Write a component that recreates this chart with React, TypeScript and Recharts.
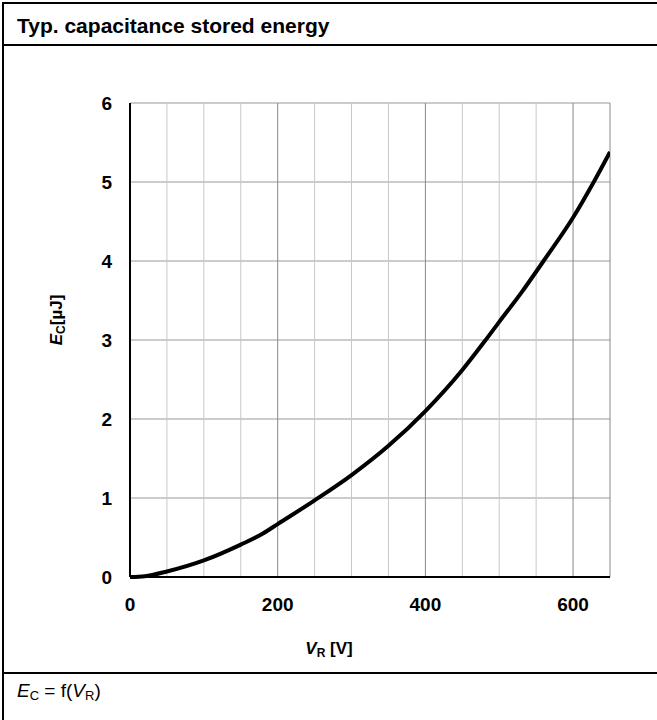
import React from "react";
import { LineChart, Line, XAxis, YAxis, CartesianGrid, ReferenceLine } from "recharts";

// V_R in volts
const VOLTAGE = [0, 20, 50, 100, 150, 180, 200, 250, 300, 350, 400, 450, 480, 500, 530, 560, 600, 628, 650];
// E_C in µJ
const ENERGY = [0, 0.01, 0.07, 0.21, 0.41, 0.55, 0.67, 0.97, 1.29, 1.66, 2.1, 2.62, 2.98, 3.23, 3.6, 4.0, 4.55, 5.0, 5.38];

const X_TICKS = [0, 50, 100, 150, 200, 250, 300, 350, 400, 450, 500, 550, 600, 650];
const X_LABELED = [0, 200, 400, 600];
const Y_TICKS = [0, 1, 2, 3, 4, 5, 6];

const data = VOLTAGE.map((v, i) => ({ v, e: ENERGY[i] }));

const FONT = '"Liberation Sans", Arial, Helvetica, sans-serif';
const tickStyle = { fill: "#000", fontSize: 19, fontWeight: 700, fontFamily: FONT };

function XTitle(props: any) {
  const vb = props.viewBox;
  return (
    <text
      x={vb.x + vb.width / 2 - 41}
      y={vb.y + 77}
      textAnchor="middle"
      fontFamily={FONT}
      fontWeight={700}
      fontSize={17}
      fill="#000"
    >
      <tspan fontStyle="italic">V</tspan>
      <tspan fontSize={12} dy={3}>R</tspan>
      <tspan dy={-3}> [V]</tspan>
    </text>
  );
}

function YTitle(props: any) {
  const vb = props.viewBox;
  const cx = 62;
  const cy = vb.y + vb.height / 2 - 20;
  return (
    <text
      x={cx}
      y={cy}
      transform={`rotate(-90 ${cx} ${cy})`}
      textAnchor="middle"
      fontFamily={FONT}
      fontWeight={700}
      fontSize={17}
      fill="#000"
    >
      <tspan fontStyle="italic">E</tspan>
      <tspan fontSize={12} dy={3}>C</tspan>
      <tspan dy={-3}>[µJ]</tspan>
    </text>
  );
}

export default function App() {
  return (
    <div
      style={{
        position: "absolute",
        left: 0,
        top: 0,
        width: 657,
        height: 720,
        overflow: "hidden",
        background: "#fff",
        fontFamily: FONT,
      }}
    >
      <div
        style={{
          position: "absolute",
          left: 2,
          top: 2,
          width: 700,
          height: 760,
          border: "2px solid #000",
        }}
      />
      <div style={{ position: "absolute", left: 2, top: 44, width: 700, height: 2, background: "#000" }} />
      <div
        style={{
          position: "absolute",
          left: 17,
          top: 15,
          fontSize: 21,
          lineHeight: "21px",
          fontWeight: 700,
          whiteSpace: "nowrap",
        }}
      >
        Typ. capacitance stored energy
      </div>

      <div style={{ position: "absolute", left: 0, top: 46 }}>
        <LineChart
          width={657}
          height={626}
          data={data}
          margin={{ top: 57, right: 47, bottom: 0, left: 0 }}
        >
          <CartesianGrid stroke="#999" vertical={false} />
          {X_TICKS.map((t) => (
            <ReferenceLine
              key={t}
              x={t}
              stroke={X_LABELED.includes(t) || t === 650 ? "#888" : "#c8c8c8"}
              strokeWidth={1}
              zIndex={-50}
            />
          ))}
          <XAxis
            dataKey="v"
            type="number"
            domain={[0, 650]}
            ticks={X_TICKS}
            interval={0}
            tickFormatter={(t: number) => (X_LABELED.includes(t) ? String(t) : "")}
            tick={tickStyle}
            tickLine={false}
            tickSize={0}
            tickMargin={21}
            axisLine={{ stroke: "#000", strokeWidth: 2 }}
            height={95}
            allowDataOverflow
            label={{ content: <XTitle /> }}
          />
          <YAxis
            type="number"
            domain={[0, 6]}
            ticks={Y_TICKS}
            interval={0}
            tick={tickStyle}
            tickLine={false}
            tickSize={0}
            tickMargin={18}
            axisLine={{ stroke: "#000", strokeWidth: 2 }}
            width={130}
            label={{ content: <YTitle /> }}
          />
          <Line
            dataKey="e"
            type="monotone"
            stroke="#000"
            strokeWidth={4}
            dot={false}
            activeDot={false}
            isAnimationActive={false}
          />
        </LineChart>
      </div>

      <div style={{ position: "absolute", left: 2, top: 672, width: 700, height: 2, background: "#000" }} />
      <div
        style={{
          position: "absolute",
          left: 17,
          top: 681,
          fontSize: 19,
          lineHeight: "19px",
          whiteSpace: "nowrap",
        }}
      >
        <i>E</i>
        <span style={{ fontSize: 13, position: "relative", top: 3 }}>C</span> = f(
        <i>V</i>
        <span style={{ fontSize: 13, position: "relative", top: 3 }}>R</span>)
      </div>
    </div>
  );
}
